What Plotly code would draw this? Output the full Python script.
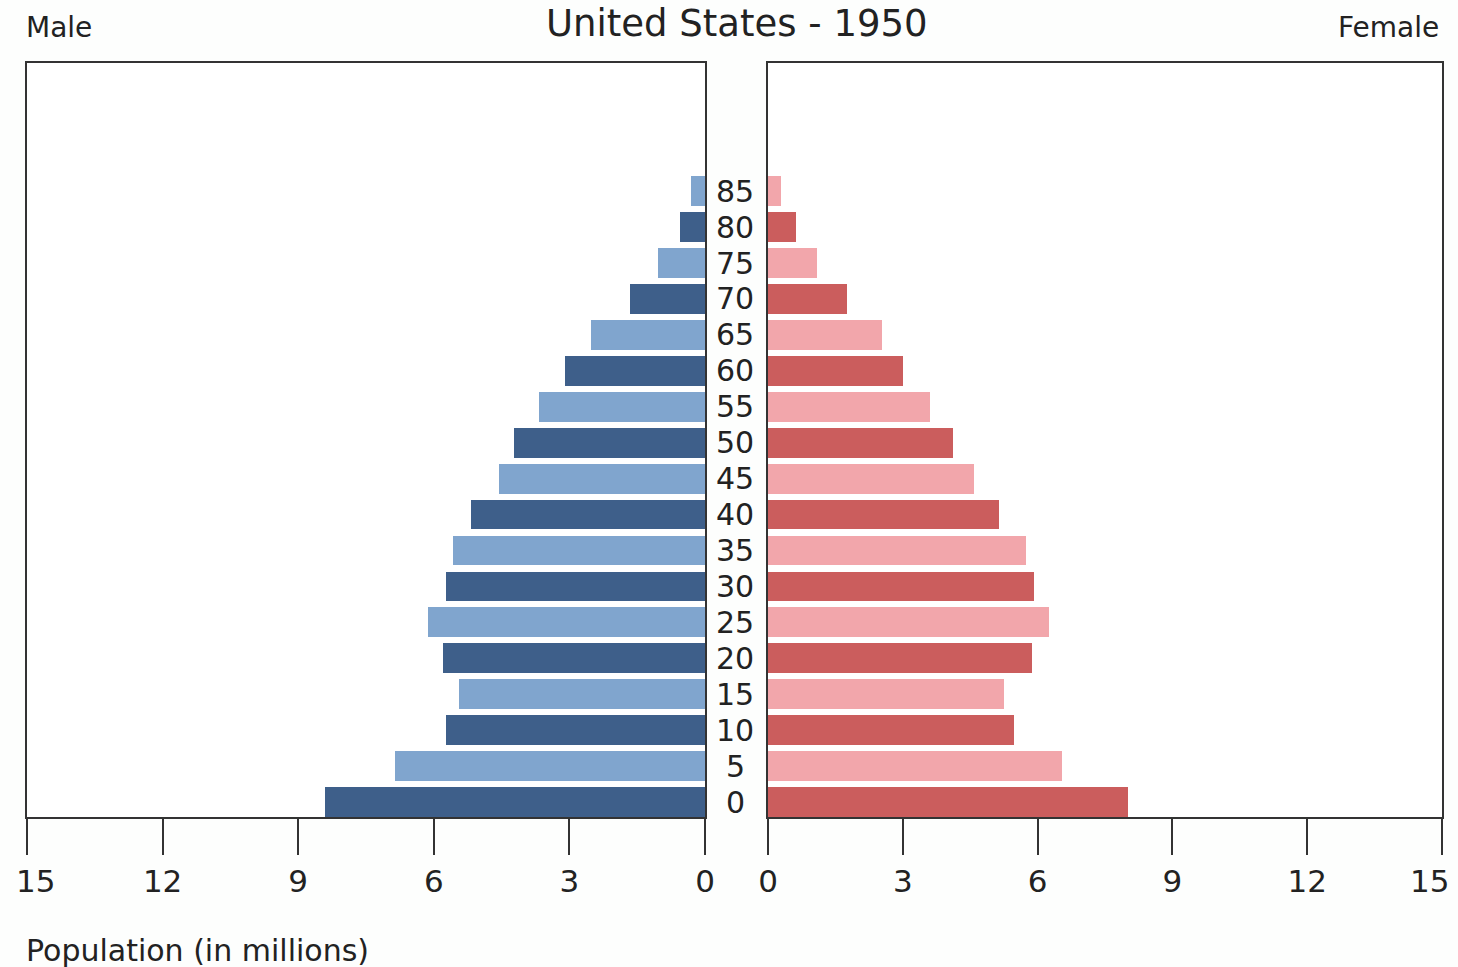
import plotly.graph_objects as go

# Age group labels (bottom to top) and population in millions
ages = ["0", "5", "10", "15", "20", "25", "30", "35", "40", "45",
        "50", "55", "60", "65", "70", "75", "80", "85"]
male = [8.41, 6.86, 5.73, 5.44, 5.80, 6.13, 5.73, 5.58, 5.18, 4.56,
        4.23, 3.67, 3.10, 2.52, 1.66, 1.04, 0.55, 0.31]
female = [8.02, 6.55, 5.48, 5.26, 5.88, 6.26, 5.92, 5.75, 5.14, 4.59,
          4.12, 3.61, 3.01, 2.54, 1.76, 1.09, 0.62, 0.29]
tick_vals = [0, 3, 6, 9, 12, 15]
tick_text = ["0", "3", "6", "9", "12", ""]   # the outer "15" is placed separately below
x_max = 15

W, H = 1458, 967
FONT = "DejaVu Sans"
ypos = list(range(len(ages)))

male_colors = ["#3e5f8a" if i % 2 == 0 else "#80a5ce" for i in ypos]
female_colors = ["#cb5d5d" if i % 2 == 0 else "#f2a6ab" for i in ypos]

fig = go.Figure()
fig.add_trace(go.Bar(x=male, y=ypos, orientation="h", width=0.83,
                     marker=dict(color=male_colors, line=dict(width=0)),
                     xaxis="x", yaxis="y", showlegend=False))
fig.add_trace(go.Bar(x=female, y=ypos, orientation="h", width=0.83,
                     marker=dict(color=female_colors, line=dict(width=0)),
                     xaxis="x2", yaxis="y2", showlegend=False))

y_dom = [1 - 817 / H, 1 - 63 / H]
yrange = [-0.415, 20.565]
tick_font = dict(family=FONT, size=31, color="#222222")
axis_common = dict(showline=True, linecolor="#333333", linewidth=2, mirror=True,
                   showgrid=False, zeroline=False, ticks="outside", ticklen=36,
                   tickwidth=2, tickcolor="#333333", tickvals=tick_vals,
                   ticktext=tick_text, tickfont=tick_font,
                   automargin=False, fixedrange=True)
yaxis_common = dict(showline=True, linecolor="#333333", linewidth=2, mirror=True,
                    showgrid=False, zeroline=False, showticklabels=False, ticks="",
                    range=yrange, domain=y_dom, automargin=False)

fig.update_layout(
    template="none",
    width=W, height=H,
    margin=dict(l=0, r=0, t=0, b=0),
    paper_bgcolor="#fdfefd", plot_bgcolor="#ffffff",
    bargap=0,
    xaxis=dict(domain=[27 / W, 705 / W], range=[x_max, 0], anchor="y", **axis_common),
    xaxis2=dict(domain=[768 / W, 1442 / W], range=[0, x_max], anchor="y2", **axis_common),
    yaxis=dict(anchor="x", **yaxis_common),
    yaxis2=dict(anchor="x2", **yaxis_common),
)

# outer "15" tick labels, kept inside the page like in the original
fig.add_annotation(x=x_max, xref="x", y=1 - 881 / H, yref="paper", text=str(x_max),
                   showarrow=False, xanchor="left", yanchor="middle", xshift=-13,
                   font=tick_font)
fig.add_annotation(x=x_max, xref="x2", y=1 - 881 / H, yref="paper", text=str(x_max),
                   showarrow=False, xanchor="right", yanchor="middle", xshift=9,
                   font=tick_font)

# age labels between the two panels
for i, a in enumerate(ages):
    fig.add_annotation(x=735 / W, xref="paper", y=i, yref="y", text=a,
                       showarrow=False, xanchor="center", yanchor="middle",
                       font=dict(family=FONT, size=30, color="#222222"))

fig.add_annotation(x=737 / W, y=1 - 23 / H, xref="paper", yref="paper",
                   text="United States - 1950", showarrow=False,
                   xanchor="center", yanchor="middle",
                   font=dict(family=FONT, size=37, color="#222222"))
fig.add_annotation(x=24 / W, y=1 - 27 / H, xref="paper", yref="paper",
                   text="Male", showarrow=False, xanchor="left", yanchor="middle",
                   font=dict(family=FONT, size=28, color="#222222"))
fig.add_annotation(x=1441 / W, y=1 - 27 / H, xref="paper", yref="paper",
                   text="Female", showarrow=False, xanchor="right", yanchor="middle",
                   font=dict(family=FONT, size=28, color="#222222"))
fig.add_annotation(x=24 / W, y=1 - 950 / H, xref="paper", yref="paper",
                   text="Population (in millions)", showarrow=False,
                   xanchor="left", yanchor="middle",
                   font=dict(family=FONT, size=30, color="#222222"))

# remove the default page margin so the figure sits at the window's corner
fig.write_html("out.html", config={"displayModeBar": False},
               post_script="document.body.style.margin='0';document.body.style.padding='0';")
